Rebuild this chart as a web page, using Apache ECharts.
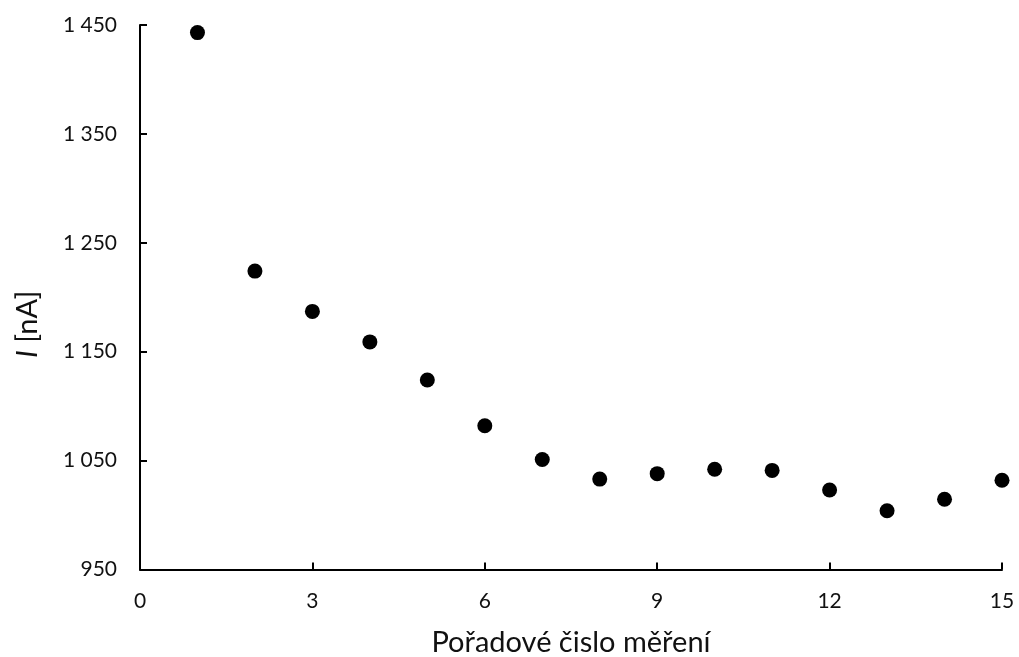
<!DOCTYPE html>
<html>
<head>
<meta charset="utf-8">
<script src="https://cdn.jsdelivr.net/npm/echarts@6/dist/echarts.min.js"></script>
<style>html,body{margin:0;padding:0;background:#fff}#c{width:1019px;height:657px}</style>
</head>
<body>
<div id="c"></div>
<script>
const xValues = [1,2,3,4,5,6,7,8,9,10,11,12,13,14,15];
const yValues = [1443,1224,1187,1159,1124,1082,1051,1033,1038,1042,1041,1023,1004,1014.5,1032];
const xTitle = 'Pořadové čislo měření';
const yTitleVar = 'I';
const yTitleUnit = ' [nA]';

const FONT = 'Lato, "Open Sans", sans-serif';
const TXT = '#111';
const chart = echarts.init(document.getElementById('c'));
chart.setOption({
  animation: false,
  backgroundColor: '#fff',
  grid: {left: 140, right: 17, top: 25, bottom: 87.5, containLabel: false, outerBoundsMode: 'none'},
  xAxis: {
    type: 'value', min: 0, max: 15, interval: 3,
    name: xTitle, nameLocation: 'middle', nameGap: 59,
    nameTextStyle: {fontFamily: FONT, fontSize: 29, color: TXT},
    axisLine: {show: true, lineStyle: {color: '#000', width: 2}},
    axisTick: {show: true, inside: true, length: 7, lineStyle: {color: '#000', width: 2}},
    axisLabel: {fontFamily: FONT, fontSize: 21, color: TXT, margin: 21},
    splitLine: {show: false}
  },
  yAxis: {
    type: 'value', min: 950, max: 1450, interval: 100,
    name: '{i|' + yTitleVar + '}' + yTitleUnit, nameLocation: 'middle', nameGap: 98, nameRotate: 90,
    nameTextStyle: {fontFamily: FONT, fontSize: 29, color: TXT, padding: [0, 54, 0, 0],
      rich: {i: {fontFamily: FONT, fontSize: 29, fontStyle: 'italic', color: TXT}}},
    axisLine: {show: true, lineStyle: {color: '#000', width: 2}},
    axisTick: {show: true, inside: true, length: 7, lineStyle: {color: '#000', width: 2}},
    axisLabel: {fontFamily: FONT, fontSize: 21, color: TXT, margin: 23,
      formatter: v => String(v).replace(/\B(?=(\d{3})+(?!\d))/g, ' ')},
    splitLine: {show: false}
  },
  series: [{
    type: 'scatter',
    data: xValues.map((x, i) => [x, yValues[i]]),
    symbol: 'circle', symbolSize: 15,
    itemStyle: {color: '#000', opacity: 1}
  }]
});
</script>
</body>
</html>
